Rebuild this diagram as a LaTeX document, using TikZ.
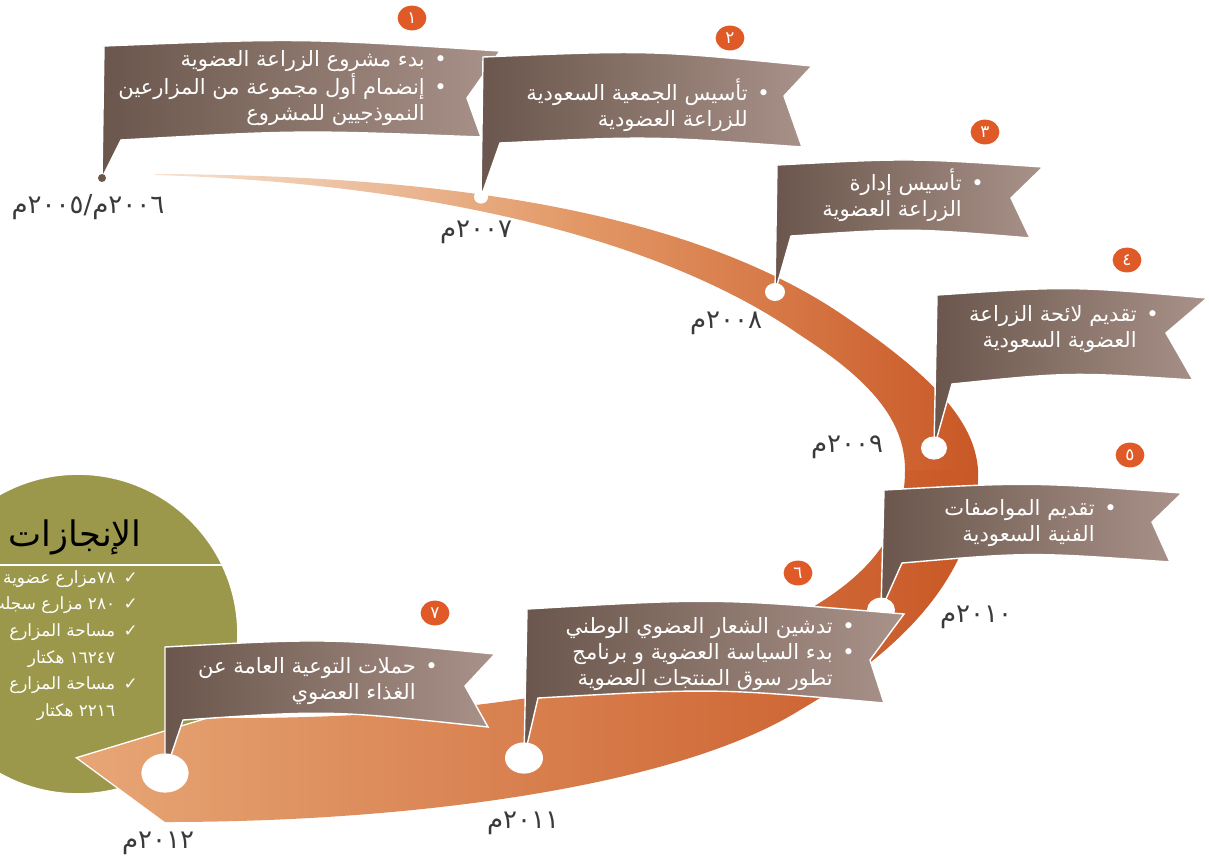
\documentclass[tikz,border=0pt]{standalone}
\usepackage{fontspec}
\newfontfamily\arabicfont[Script=Arabic]{DejaVu Sans}
\TeXXeTstate=1
\usetikzlibrary{shapes.geometric}
\definecolor{flagdark}{HTML}{6A564C}
\definecolor{flaglight}{HTML}{A99289}
\definecolor{badgeorange}{HTML}{E05A28}
\definecolor{olive}{HTML}{9B984B}
\definecolor{bandpale}{HTML}{F6E2D2}
\definecolor{bandmid}{HTML}{E39A68}
\definecolor{bandpeach}{HTML}{E7A676}
\definecolor{bandorange}{HTML}{C95826}
\definecolor{datetext}{HTML}{3A3A3A}
\newcommand{\ar}[1]{\beginR#1\endR}
\newcommand{\bul}{•\hspace{0.45em}}
\newcommand{\nobul}{\hphantom{•}\hspace{0.45em}}
\newcommand{\chk}{✓\hspace{0.5em}}
\newcommand{\nochk}{\hphantom{✓}\hspace{0.5em}}
\tikzset{
	flag/.style={draw=white,line width=1pt,left color=flagdark,right color=flaglight},
	flagtext/.style={font=\arabicfont\fontsize{15}{18.5}\selectfont,text=white,align=right,inner sep=0pt,anchor=east},
	dot/.style={ellipse,fill=white,inner sep=0pt},
	badge/.style={ellipse,fill=badgeorange,text=white,inner sep=0pt,minimum width=0.72cm,minimum height=0.62cm,font=\arabicfont\fontsize{12}{12}\selectfont},
	datelabel/.style={font=\arabicfont\fontsize{18.5}{18.5}\selectfont,text=datetext,inner sep=0pt}
}
\begin{document}
\begin{tikzpicture}[x=0.025cm,y=-0.025cm]
	\useasboundingbox (0,0) rectangle (1209,858);
	% achievements
	\fill[olive,draw=white,line width=1.2pt] (78,634) circle (160);
	\draw[white,line width=1.2pt] (0,565) -- (222,565);
	\node[font=\arabicfont\fontsize{25}{25}\selectfont,text=black,anchor=east,inner sep=0pt] (achtitle) at (142,537) {\ar{الإنجازات}};
	\node[font=\arabicfont\fontsize{12}{19}\selectfont,text=white,align=right,anchor=north east,inner sep=0pt] (achlist) at (138,570) {\ar{\chk ٧٨مزارع عضوية}\\ \ar{\chk ٢٨٠ مزارع سجلت}\\ \ar{\chk مساحة المزارع}\\ \ar{\nochk ١٦٢٤٧ هكتار}\\ \ar{\chk مساحة المزارع}\\ \ar{\nochk ٢٢١٦ هكتار}};
	% ribbon
	\draw[white,line width=2pt] (155,174) .. controls (400,175) and (680,200) .. (850,320) .. controls (930,375) and (975,420) .. (978,470) .. controls (980,560) and (920,640) .. (800,710) .. controls (680,785) and (420,822) .. (165,822) -- (78,758) -- (210,718) .. controls (450,720) and (650,690) .. (780,625) .. controls (860,585) and (905,540) .. (905,470) .. controls (905,420) and (870,380) .. (800,335) .. controls (650,230) and (400,182) .. (155,175) -- cycle;
	\path[left color=bandpale,right color=bandorange,middle color=bandmid] (155,174) .. controls (400,175) and (680,200) .. (850,320) .. controls (930,375) and (975,420) .. (978,470) -- (905,470) .. controls (905,420) and (870,380) .. (800,335) .. controls (650,230) and (400,182) .. (155,175) -- cycle;
	\path[left color=bandpeach,right color=bandorange] (978,470) .. controls (980,560) and (920,640) .. (800,710) .. controls (680,785) and (420,822) .. (165,822) -- (78,758) -- (210,718) .. controls (450,720) and (650,690) .. (780,625) .. controls (860,585) and (905,540) .. (905,470) -- cycle;
	% years
	\node[datelabel] (y1) at (88,207) {\ar{٢٠٠٦م/٢٠٠٥م}};
	\node[datelabel] (y2) at (476,232) {\ar{٢٠٠٧م}};
	\node[datelabel] (y3) at (726,323) {\ar{٢٠٠٨م}};
	\node[datelabel] (y4) at (847,447) {\ar{٢٠٠٩م}};
	\node[datelabel] (y5) at (976,617) {\ar{٢٠١٠م}};
	\node[datelabel] (y6) at (523,823) {\ar{٢٠١١م}};
	\node[datelabel] (y7) at (158,843) {\ar{٢٠١٢م}};
	% flags
	\coordinate (p1) at (102,178);
	\coordinate (p2) at (481,197);
	\coordinate (p3) at (775,292);
	\coordinate (p4) at (934,448);
	\coordinate (p5) at (881,610);
	\coordinate (p6) at (524,758);
	\coordinate (p7) at (165,773);
	\path[flag] (104,46) .. controls (300,38) .. (500,51) -- (467,98) -- (481,137) .. controls (300,130) .. (121,140) -- (p1) -- cycle;
	\node[dot,fill=flagdark,minimum size=0.2cm] (d1) at (p1) {};
	\path[flag] (483,57) .. controls (650,50) .. (812,66) -- (784,96) -- (802,147) .. controls (650,136) .. (500,143) -- (p2) -- cycle;
	\node[dot,minimum width=0.35cm,minimum height=0.33cm] (d2) at (p2) {};
	\path[flag] (777,165) .. controls (910,158) .. (1043,167) -- (1011,198) -- (1030,238) .. controls (910,228) .. (791,236) -- (p3) -- cycle;
	\node[dot,minimum width=0.5cm,minimum height=0.45cm] (d3) at (p3) {};
	\path[flag] (937,295) .. controls (1070,286) .. (1207,298) -- (1166,333) -- (1193,380) .. controls (1070,372) .. (952,384) -- (p4) -- cycle;
	\node[dot,minimum width=0.65cm,minimum height=0.58cm] (d4) at (p4) {};
	\path[flag] (884,490) .. controls (1030,482) .. (1182,493) -- (1152,522) -- (1170,562) .. controls (1030,552) .. (902,563) -- (p5) -- cycle;
	\node[dot,minimum width=0.7cm,minimum height=0.62cm] (d5) at (p5) {};
	\path[flag] (527,609) .. controls (715,598) .. (904,614) -- (870,660) -- (884,703) .. controls (715,688) .. (538,698) -- (p6) -- cycle;
	\node[dot,minimum width=0.95cm,minimum height=0.78cm] (d6) at (p6) {};
	\path[flag] (165,647) .. controls (330,638) .. (495,654) -- (465,686) -- (488,727) .. controls (330,710) .. (183,720) -- (p7) -- cycle;
	\node[dot,minimum width=1.18cm,minimum height=0.98cm] (d7) at (p7) {};
	% flag texts
	\node[flagtext] (t1) at (447,88) {\ar{\bul بدء مشروع الزراعة العضوية}\\ \ar{\bul إنضمام أول مجموعة من المزارعين}\\ \ar{\nobul النموذجيين للمشروع}};
	\node[flagtext] (t2) at (770,105) {\ar{\bul تأسيس الجمعية السعودية}\\ \ar{\nobul للزراعة العضودية}};
	\node[flagtext] (t3) at (984,195) {\ar{\bul تأسيس إدارة}\\ \ar{\nobul الزراعة العضوية}};
	\node[flagtext] (t4) at (1159,329) {\ar{\bul تقديم لائحة الزراعة}\\ \ar{\nobul العضوية السعودية}};
	\node[flagtext] (t5) at (1117,523) {\ar{\bul تقديم المواصفات}\\ \ar{\nobul الفنية السعودية}};
	\node[flagtext] (t6) at (855,654) {\ar{\bul تدشين الشعار العضوي الوطني}\\ \ar{\bul بدء السياسة العضوية و برنامج}\\ \ar{\nobul تطور سوق المنتجات العضوية}};
	\node[flagtext] (t7) at (438,681) {\ar{\bul حملات التوعية العامة عن}\\ \ar{\nobul الغذاء العضوي}};
	% numbers
	\node[badge] (b1) at (412,18) {١};
	\node[badge] (b2) at (730,38) {٢};
	\node[badge] (b3) at (985,132) {٣};
	\node[badge] (b4) at (1127,260) {٤};
	\node[badge] (b5) at (1130,455) {٥};
	\node[badge] (b6) at (798,573) {٦};
	\node[badge] (b7) at (435,613) {٧};
\end{tikzpicture}
\end{document}
